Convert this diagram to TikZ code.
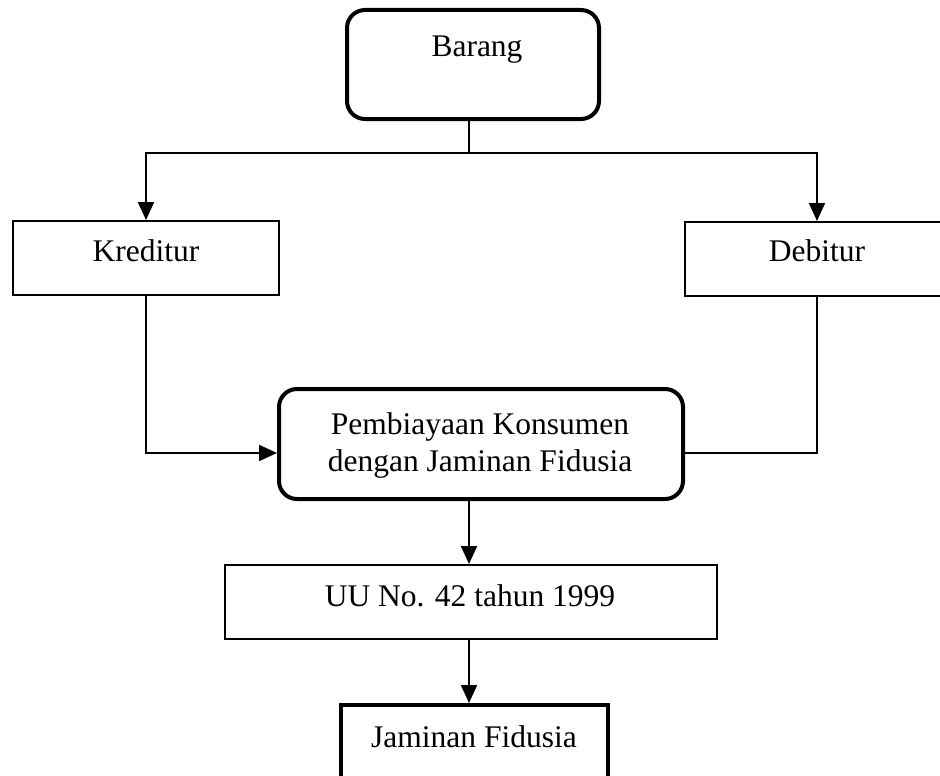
\documentclass[tikz,border=0pt]{standalone}
\usepackage{fontspec}
\setmainfont{Liberation Serif}
\usetikzlibrary{arrows.meta}
\begin{document}
\begin{tikzpicture}[x=1pt,y=-1pt,
  txt/.style={inner sep=0pt,font=\fontsize{31.5}{37}\selectfont},
  thinbox/.style={draw,line width=2pt,inner sep=0pt},
  thickbox/.style={draw,line width=4pt,inner sep=0pt},
  roundbox/.style={thickbox,rounded corners=18pt},
  conn/.style={line width=2pt},
  arr/.style={conn,-{Triangle[width=16pt,length=18pt]}}]
\clip (0,0) rectangle (940,776);
\fill[white] (0,0) rectangle (940,776);
% boxes
\node[roundbox,minimum width=252pt,minimum height=109pt] (barang) at (473,64.5) {};
\node[txt,anchor=base] (barangt) at (477,57) {Barang};
\node[thinbox,minimum width=266pt,minimum height=74pt] (kreditur) at (146,258) {};
\node[txt,anchor=base] (kreditt) at (146,261) {Kreditur};
\node[thinbox,minimum width=264pt,minimum height=74pt] (debitur) at (817,259) {};
\node[txt,anchor=base] (debitt) at (817,261) {Debitur};
\node[roundbox,minimum width=404pt,minimum height=110pt] (pemb) at (481,444) {};
\node[txt,align=center] (pembt) at (480,445) {Pembiayaan Konsumen\\dengan Jaminan Fidusia};
\node[thinbox,minimum width=492pt,minimum height=74pt] (uu) at (471,602) {};
\node[txt,anchor=base] (uut) at (470,606) {UU No. 42 tahun 1999};
\node[thickbox,minimum width=267pt,minimum height=95pt] (jam) at (474.5,752.5) {};
\node[txt,anchor=base] (jamt) at (474,747) {Jaminan Fidusia};
% helper coordinates
\coordinate (axis) at (469,0);
\coordinate (split) at (469,153);
\coordinate (mid) at (0,453);
% connectors
\draw[conn] (barang.south -| split) -- (split);
\draw[arr] (split) -| (kreditur.north);
\draw[arr] (split) -| (debitur.north);
\draw[arr] (kreditur.south) |- (pemb.west |- mid);
\draw[conn] (debitur.south) |- (pemb.east |- mid);
\draw[arr] (pemb.south -| axis) -- (uu.north -| axis);
\draw[arr] (uu.south -| axis) -- (jam.north -| axis);
\end{tikzpicture}
\end{document}
